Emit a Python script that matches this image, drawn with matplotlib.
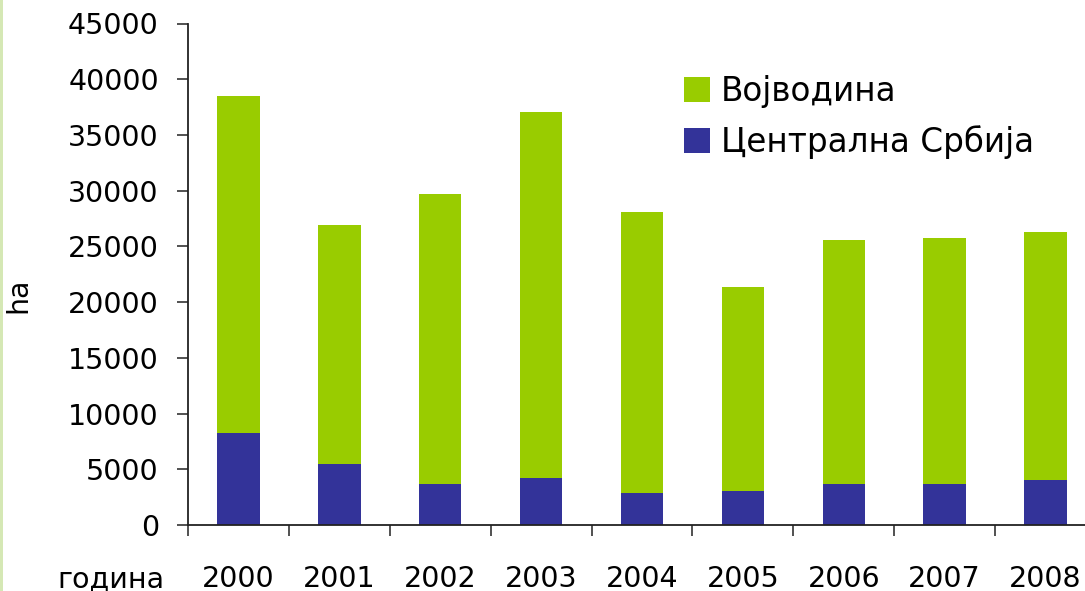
import matplotlib
matplotlib.use("Agg")
import matplotlib.pyplot as plt
from matplotlib.patches import Rectangle
import numpy as np

years = ["2000", "2001", "2002", "2003", "2004", "2005", "2006", "2007", "2008"]
centralna = [8250, 5500, 3700, 4200, 2900, 3050, 3700, 3700, 4050]
vojvodina = [30250, 21400, 26000, 32850, 25200, 18300, 21900, 22050, 22250]

GREEN = "#99CC00"
BLUE = "#333399"

plt.rcParams['font.family'] = ['DejaVu Sans']
FS = 20.5
LFS = 23.5

fig = plt.figure(figsize=(10.85, 5.91), dpi=100)
fig.patches.append(Rectangle((0, 0), 3/1085, 1, transform=fig.transFigure,
                             facecolor="#d5e8b5", edgecolor="none"))
ax = fig.add_axes([188/1085, 66/591, 908/1085, 501.5/591])

x = np.arange(len(years))
ax.bar(x, centralna, width=0.42, color=BLUE, label="Централна Србија", zorder=2)
ax.bar(x, vojvodina, width=0.42, bottom=centralna, color=GREEN, label="Војводина", zorder=2)

ax.set_xlim(-0.5, len(years) - 0.5)
ax.set_ylim(0, 45000)
ax.set_yticks(np.arange(0, 45001, 5000))
ax.tick_params(axis='y', labelsize=FS, length=8, width=1.2, pad=13, color="#333333")
ax.set_xticks(x)
ax.set_xticklabels(years)
ax.tick_params(axis='x', which='major', length=0, labelsize=FS, pad=28.5)
ax.set_xticks(np.arange(-0.5, len(years), 1.0), minor=True)
ax.tick_params(axis='x', which='minor', length=8, width=1.2, color="#333333")

for s in ["top", "right"]:
    ax.spines[s].set_visible(False)
for s in ["left", "bottom"]:
    ax.spines[s].set_linewidth(1.3)
    ax.spines[s].set_color("#222222")

fig.text(18.5/1085, 1 - 295/591, "ha", fontsize=FS, rotation=90, ha="center", va="center")
fig.text(165/1085, 4/591, "година", fontsize=FS, ha="right", va="baseline")

h, l = ax.get_legend_handles_labels()
ax.legend(h[::-1], l[::-1], loc="upper left", bbox_to_anchor=(684/1085, 1 - 75/591),
          bbox_transform=fig.transFigure, frameon=False, fontsize=LFS,
          handlelength=0.8, handleheight=0.8, handletextpad=0.33,
          labelspacing=0.53, borderpad=0, borderaxespad=0)

fig.savefig("out.png", dpi=100)
